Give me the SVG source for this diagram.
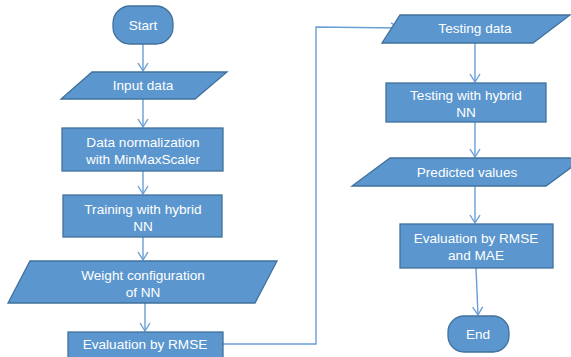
<svg xmlns="http://www.w3.org/2000/svg" width="571" height="357" viewBox="0 0 571 357">
<defs>
<style>
.n{fill:#5B96CE;stroke:#41719C;stroke-width:1.3}
.t{fill:#fff;font-family:"Liberation Sans",Arial,sans-serif;font-size:13.6px;text-anchor:middle}
.c{fill:none;stroke:#6A9FD6;stroke-width:1.4}
</style>
<marker id="a" markerWidth="12" markerHeight="12" refX="9" refY="6" orient="auto" markerUnits="userSpaceOnUse">
<path d="M1,1 L9,6 L1,11" fill="none" stroke="#6A9FD6" stroke-width="1.4"/>
</marker>
</defs>
<rect width="571" height="357" fill="#fff"/>
<g id="connectors">
<line class="c" x1="143" y1="44" x2="143" y2="71" marker-end="url(#a)"/>
<line class="c" x1="143" y1="99" x2="143" y2="127" marker-end="url(#a)"/>
<line class="c" x1="143" y1="171" x2="143" y2="194" marker-end="url(#a)"/>
<line class="c" x1="143" y1="237" x2="143" y2="260" marker-end="url(#a)"/>
<line class="c" x1="145" y1="303" x2="145" y2="331" marker-end="url(#a)"/>
<polyline class="c" points="223,344 316,344 316,27 399,28" marker-end="url(#a)"/>
<line class="c" x1="475" y1="43" x2="475" y2="82" marker-end="url(#a)"/>
<line class="c" x1="475" y1="122" x2="475" y2="157" marker-end="url(#a)"/>
<line class="c" x1="475" y1="186" x2="475" y2="223" marker-end="url(#a)"/>
<line class="c" x1="476" y1="268" x2="478" y2="315" marker-end="url(#a)"/>
</g>
<g id="start">
<rect class="n" x="113" y="6" width="60" height="38" rx="17" ry="17"/>
<text class="t" x="143" y="30">Start</text>
</g>
<g id="input">
<polygon class="n" points="92,72 227,72 195,99 61,99"/>
<text class="t" x="143" y="90">Input data</text>
</g>
<g id="norm">
<rect class="n" x="62" y="128" width="161" height="43"/>
<text class="t" x="143" y="147">Data normalization</text>
<text class="t" x="143" y="164">with MinMaxScaler</text>
</g>
<g id="train">
<rect class="n" x="63" y="195" width="159" height="42"/>
<text class="t" x="143" y="214">Training with hybrid</text>
<text class="t" x="143" y="231">NN</text>
</g>
<g id="weight">
<polygon class="n" points="30,261 277,261 255,303 8,303"/>
<text class="t" x="143" y="280">Weight configuration</text>
<text class="t" x="143" y="297">of NN</text>
</g>
<g id="evalrmse">
<rect class="n" x="68" y="332" width="155" height="30"/>
<text class="t" x="145" y="349">Evaluation by RMSE</text>
</g>
<g id="testdata">
<polygon class="n" points="400,15 570,15 533,43 382,43"/>
<text class="t" x="475" y="33">Testing data</text>
</g>
<g id="testnn">
<rect class="n" x="386" y="83" width="160" height="39"/>
<text class="t" x="466" y="100">Testing with hybrid</text>
<text class="t" x="466" y="117">NN</text>
</g>
<g id="pred">
<polygon class="n" points="390,158 584,158 546,186 352,186"/>
<text class="t" x="467" y="177">Predicted values</text>
</g>
<g id="evalmae">
<rect class="n" x="400" y="224" width="153" height="44"/>
<text class="t" x="476" y="243">Evaluation by RMSE</text>
<text class="t" x="476" y="260">and MAE</text>
</g>
<g id="end">
<rect class="n" x="448" y="316" width="61" height="36" rx="16" ry="16"/>
<text class="t" x="478" y="339">End</text>
</g>
</svg>
